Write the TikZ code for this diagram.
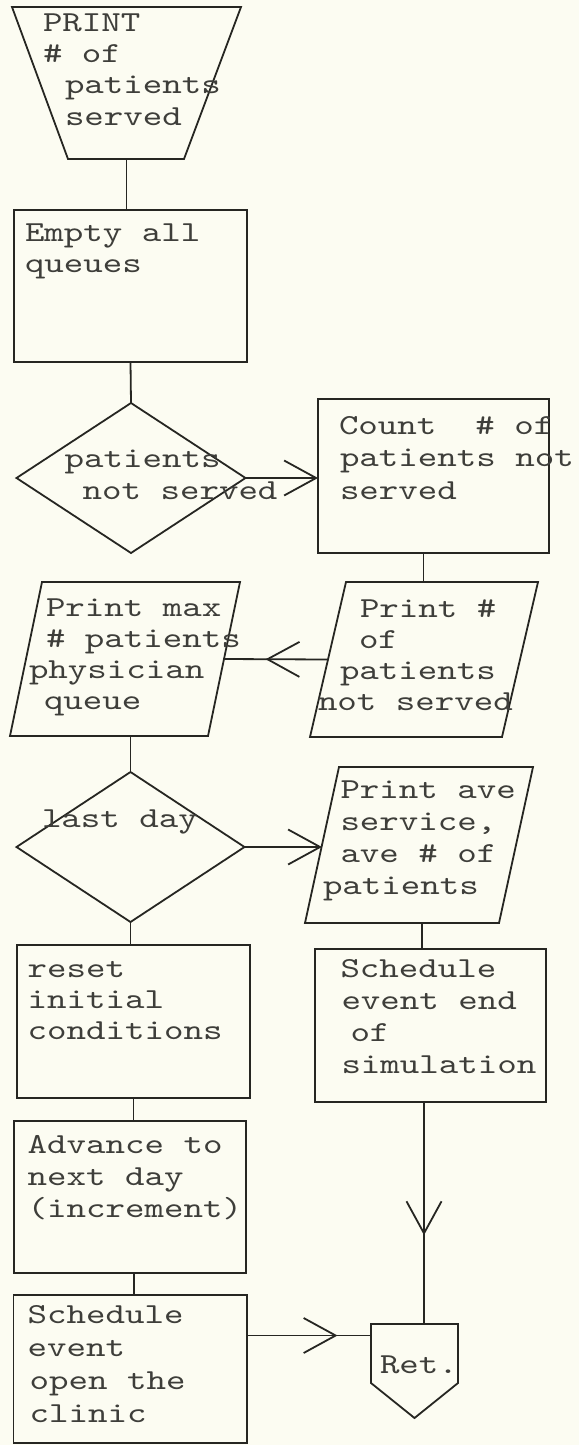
\documentclass[tikz,border=0pt]{standalone}
\usepackage{fontspec}
\newfontfamily\twfont{lmmono10-regular}[Extension=.otf, FakeStretch=1.28]
\usetikzlibrary{shapes.geometric, arrows.meta, decorations.markings}
\definecolor{paper}{RGB}{252,252,242}
\definecolor{ink}{RGB}{38,38,34}
\definecolor{typeink}{RGB}{62,62,58}
% a stack of typed lines whose reference point is the first baseline
\newcommand\twrows[2][31]{\vtop{\baselineskip=#1pt\lineskiplimit=-100pt\lineskip=0pt #2}}
\newcommand\twline[2][0]{\hbox{\kern#1pt #2}}
\begin{document}
\begin{tikzpicture}[x=1pt, y=-1pt,
  ln/.style={draw=ink, line width=1.8pt},
  hull/.style={rectangle, inner sep=0pt, outer sep=0pt},
  flowbox/.style={rectangle, ln, inner sep=0pt, outer sep=0pt},
  decision/.style={diamond, ln, inner sep=0pt, outer sep=0pt},
  txt/.style={anchor=base west, inner sep=0pt, outer sep=0pt, text=typeink,
    font=\twfont\fontsize{29}{31}\selectfont},
  barb/.tip={Straight Barb[length=32pt, width=35pt]},
  arr/.style={ln, -barb},
  midarr/.style={ln, postaction={decorate, decoration={markings,
    mark=at position #1 with {\arrow{barb}}}}}]

\fill[paper] (0,0) rectangle (579,1445);
\useasboundingbox (0,0) rectangle (579,1445);

% ---- left column -------------------------------------------------
% output trapezium
\node[hull, minimum width=229pt, minimum height=152pt] (pr) at (126.5,83) {};
\draw[ln] (pr.north west) -- (pr.north east) -- ([xshift=-57pt]pr.south east)
  -- ([xshift=56pt]pr.south west) -- cycle;
\node[txt] (prT) at (43,32) {\twrows{\twline{PRINT}\twline{\# of}%
  \twline[22]{patients}\twline[22]{served}}};

% empty queues
\node[flowbox, minimum width=233pt, minimum height=152pt] (empty) at (130.5,286) {};
\node[txt] (emptyT) at (25,241) {\twrows{\twline{Empty all}\twline{queues}}};

% patients not served?
\node[decision, minimum width=229pt, minimum height=150pt] (dns) at (131,478) {};
\node[txt] (dnsT) at (64.6,467) {\twrows[32]{\twline{patients}\twline[18]{not served}}};

% print max queue
\node[hull, minimum width=230pt, minimum height=154pt] (pmax) at (125,659) {};
\draw[ln] ([xshift=32pt]pmax.north west) -- (pmax.north east)
  -- ([xshift=-32pt]pmax.south east) -- (pmax.south west) -- cycle;
\node[txt] (pmaxT) at (46,616) {\twrows{\twline{Print max}\twline{\# patients}%
  \twline[-17]{physician}\twline[-2]{queue}}};

% last day?
\node[decision, minimum width=228pt, minimum height=150pt] (dld) at (130.5,847) {};
\node[txt] (dldT) at (42,827) {last day};

% reset
\node[flowbox, minimum width=233pt, minimum height=153pt] (reset) at (133.5,1021.5) {};
\node[txt] (resetT) at (27.7,977) {\twrows{\twline{reset}\twline{initial}\twline{conditions}}};

% advance
\node[flowbox, minimum width=232pt, minimum height=152pt] (adv) at (130,1197) {};
\node[txt] (advT) at (27.7,1153) {\twrows[32]{\twline{Advance to}\twline{next day}%
  \twline{(increment)}}};

% schedule open
\node[flowbox, minimum width=233.5pt, minimum height=148pt] (sopen) at (130.25,1369) {};
\node[txt] (sopenT) at (27.7,1323) {\twrows[33]{\twline{Schedule}\twline{event}%
  \twline[2]{open the}\twline[2]{clinic}}};

% ---- right column ------------------------------------------------
% count not served
\node[flowbox, minimum width=231pt, minimum height=154pt] (cnt) at (433.5,476) {};
\node[txt] (cntT) at (339,434) {\twrows[32.5]{\twline{Count~~\# of}\twline[1]{patients not}%
  \twline[1]{served}}};

% print not served
\node[hull, minimum width=228pt, minimum height=155pt] (pns) at (424,659.5) {};
\draw[ln] ([xshift=36pt]pns.north west) -- (pns.north east)
  -- ([xshift=-36pt]pns.south east) -- (pns.south west) -- cycle;
\node[txt] (pnsT) at (360,617) {\twrows{\twline{Print \#}\twline[-1]{of}%
  \twline[-20]{patients}\twline[-42]{not served}}};

% print averages
\node[hull, minimum width=228pt, minimum height=156pt] (pav) at (419,845) {};
\draw[ln] ([xshift=34pt]pav.north west) -- (pav.north east)
  -- ([xshift=-34pt]pav.south east) -- (pav.south west) -- cycle;
\node[txt] (pavT) at (340.5,798) {\twrows[32]{\twline{Print ave}\twline{service,}%
  \twline{ave \# of}\twline[-17.5]{patients}}};

% schedule end
\node[flowbox, minimum width=231pt, minimum height=153pt] (send) at (430.5,1025.5) {};
\node[txt] (sendT) at (340.5,977) {\twrows[32]{\twline{Schedule}\twline[1]{event end}%
  \twline[10]{of}\twline[1]{simulation}}};

% return
\node[hull, minimum width=87pt, minimum height=59pt] (ret) at (414.5,1353.5) {};
\draw[ln] (ret.south west) -- (ret.north west) -- (ret.north east) -- (ret.south east)
  -- ([yshift=-35pt]ret.south) -- cycle;
\node[txt] (retT) at (380,1373) {Ret.};

% ---- connectors ----------------------------------------------------
\coordinate (pnsW) at ([xshift=18pt]pns.west);
\coordinate (pmaxE) at ([xshift=-16pt]pmax.east);
\coordinate (pavW) at ([xshift=17pt]pav.west);
\coordinate (retW) at ([yshift=18pt]ret.west);
\coordinate (cntS) at ([xshift=-10pt]cnt.south);
\coordinate (sendS) at ([xshift=-6.5pt]send.south);
\coordinate (advS) at ([xshift=4pt]adv.south);

\draw[ln] (pr.south) -- (pr.south |- empty.north);
\draw[ln] (empty.south) -- (dns.north);
\draw[arr] (dns.east) -- (dns.east -| cnt.west);
\draw[ln] (cntS) -- (cntS |- pns.north);
\draw[midarr=0.6] (pnsW) -- (pmaxE);
\draw[ln] (dld.north |- pmax.south) -- (dld.north);
\draw[arr] (dld.east) -- (dld.east -| pavW);
\draw[ln] ([xshift=3pt]pav.south) -- ([xshift=3pt]pav.south |- send.north);
\draw[ln] (dld.south) -- (dld.south |- reset.north);
\draw[ln] (reset.south) -- (reset.south |- adv.north);
\draw[ln] (advS) -- (advS |- sopen.north);
\draw[midarr=0.73] (sopen.east |- retW) -- (retW);
\draw[midarr=0.6] (sendS) -- (sendS |- ret.north);
\end{tikzpicture}
\end{document}
